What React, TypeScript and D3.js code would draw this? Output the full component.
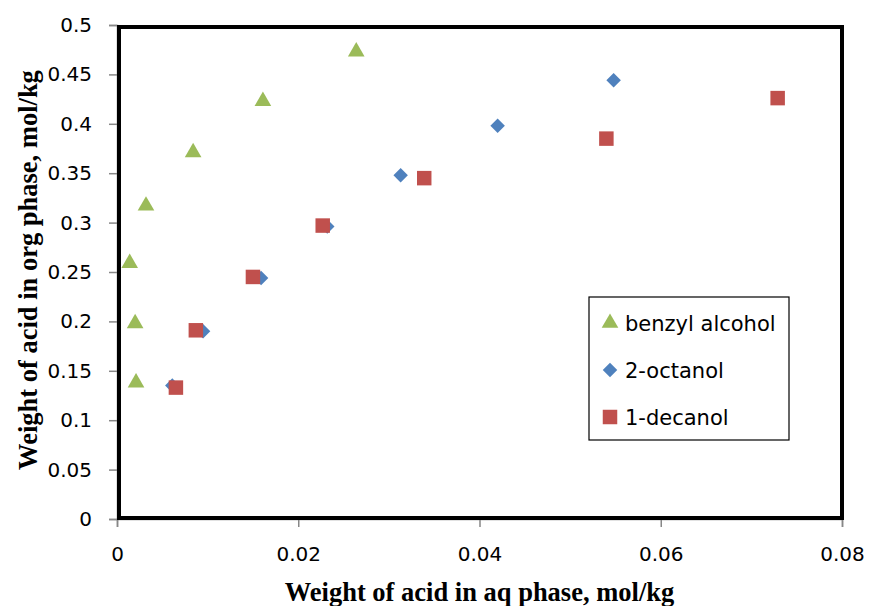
import React, { useEffect, useRef } from "react";
import * as d3 from "d3";

// benzyl alcohol (triangles)
const benzylX = [0.0264, 0.0161, 0.0084, 0.0032, 0.0014, 0.002, 0.0021];
const benzylY = [0.473, 0.423, 0.371, 0.317, 0.259, 0.198, 0.138];
// 2-octanol (diamonds)
const octanolX = [0.0548, 0.042, 0.0313, 0.0232, 0.0159, 0.0095, 0.0061];
const octanolY = [0.444, 0.398, 0.348, 0.296, 0.244, 0.19, 0.135];
// 1-decanol (squares)
const decanolX = [0.0729, 0.054, 0.0339, 0.0227, 0.015, 0.0087, 0.0065];
const decanolY = [0.426, 0.385, 0.345, 0.297, 0.245, 0.191, 0.133];

const xTicks = [0, 0.02, 0.04, 0.06, 0.08];
const yTicks = [0, 0.05, 0.1, 0.15, 0.2, 0.25, 0.3, 0.35, 0.4, 0.45, 0.5];
const seriesNames = ["benzyl alcohol", "2-octanol", "1-decanol"];

const App = () => {
  const ref = useRef<SVGSVGElement>(null);

  useEffect(() => {
    document.body.style.margin = "0";
    document.body.style.overflow = "hidden";

    const width = 869;
    const height = 606;
    const margin = { top: 25, right: 27, bottom: 87, left: 117 };
    const w = width - margin.left - margin.right;
    const h = height - margin.top - margin.bottom;

    const svg = d3.select(ref.current).attr("width", width).attr("height", height);
    svg.selectAll("*").remove();

    const g = svg.append("g").attr("transform", `translate(${margin.left},${margin.top})`);

    const x = d3.scaleLinear().domain([0, 0.08]).range([0, w]);
    const y = d3.scaleLinear().domain([0, 0.5]).range([h, 0]);

    const tickFont = "'DejaVu Sans', sans-serif";
    const serif = "'Liberation Serif', 'Times New Roman', serif";

    // y axis
    const yAxis = g.append("g")
      .call(d3.axisLeft(y).tickValues(yTicks).tickSize(8).tickPadding(17)
        .tickFormat(d => String(+d)));
    yAxis.select(".domain").attr("stroke", "#878787").attr("stroke-width", 1.5);
    yAxis.selectAll(".tick line").attr("stroke", "#878787").attr("stroke-width", 1.5);
    yAxis.selectAll(".tick text")
      .style("font-family", tickFont).style("font-size", "20px").attr("fill", "#000");

    // x axis
    const xAxis = g.append("g")
      .attr("transform", `translate(0,${h})`)
      .call(d3.axisBottom(x).tickValues(xTicks).tickSize(8).tickPadding(20)
        .tickFormat(d => String(+d)));
    xAxis.select(".domain").attr("stroke", "#878787").attr("stroke-width", 1.5);
    xAxis.selectAll(".tick line").attr("stroke", "#878787").attr("stroke-width", 1.5);
    xAxis.selectAll(".tick text")
      .style("font-family", tickFont).style("font-size", "20px").attr("fill", "#000");

    // plot area border
    g.append("rect")
      .attr("x", 2).attr("y", 2)
      .attr("width", w - 2).attr("height", h - 3)
      .attr("fill", "none")
      .attr("stroke", "#000")
      .attr("stroke-width", 4);

    const tri = d3.symbol().type(d3.symbolTriangle).size(120);
    const dia = d3.symbol().type(d3.symbolSquare).size(105);
    const sq = d3.symbol().type(d3.symbolSquare).size(210);

    g.selectAll(".benzyl")
      .data(benzylX.map((v, i) => [v, benzylY[i]]))
      .enter().append("path")
      .attr("d", tri)
      .attr("transform", d => `translate(${x(d[0])},${y(d[1])})`)
      .attr("fill", "#9bbb59");

    g.selectAll(".octanol")
      .data(octanolX.map((v, i) => [v, octanolY[i]]))
      .enter().append("path")
      .attr("d", dia)
      .attr("transform", d => `translate(${x(d[0])},${y(d[1])}) rotate(45)`)
      .attr("fill", "#4f81bd");

    g.selectAll(".decanol")
      .data(decanolX.map((v, i) => [v, decanolY[i]]))
      .enter().append("path")
      .attr("d", sq)
      .attr("transform", d => `translate(${x(d[0])},${y(d[1])})`)
      .attr("fill", "#c0504d");

    // legend
    const legend = svg.append("g").attr("transform", "translate(589,297)");
    legend.append("rect")
      .attr("width", 200).attr("height", 143)
      .attr("fill", "#fff").attr("stroke", "#000").attr("stroke-width", 1.2);
    const shapes = [
      { p: tri, c: "#9bbb59", r: 0 },
      { p: dia, c: "#4f81bd", r: 45 },
      { p: sq, c: "#c0504d", r: 0 },
    ];
    seriesNames.forEach((name, i) => {
      const base = 34 + i * 47;
      legend.append("path")
        .attr("d", shapes[i].p)
        .attr("transform", `translate(21,${base - 8}) rotate(${shapes[i].r})`)
        .attr("fill", shapes[i].c);
      legend.append("text")
        .attr("x", 36).attr("y", base)
        .style("font-family", tickFont).style("font-size", "21px")
        .attr("fill", "#000")
        .text(name);
    });

    // axis titles
    svg.append("text")
      .attr("x", margin.left + w / 2).attr("y", 601)
      .attr("text-anchor", "middle")
      .style("font-family", serif)
      .style("font-size", "26.5px").style("font-weight", "bold")
      .text("Weight of acid in aq phase, mol/kg");

    svg.append("text")
      .attr("transform", `translate(37,270) rotate(-90)`)
      .attr("text-anchor", "middle")
      .style("font-family", serif)
      .style("font-size", "26.5px").style("font-weight", "bold")
      .text("Weight of acid in org phase, mol/kg");
  }, []);

  return (
    <div style={{ width: 869, height: 606 }}>
      <svg ref={ref} style={{ display: "block" }}></svg>
    </div>
  );
};

export default App;
